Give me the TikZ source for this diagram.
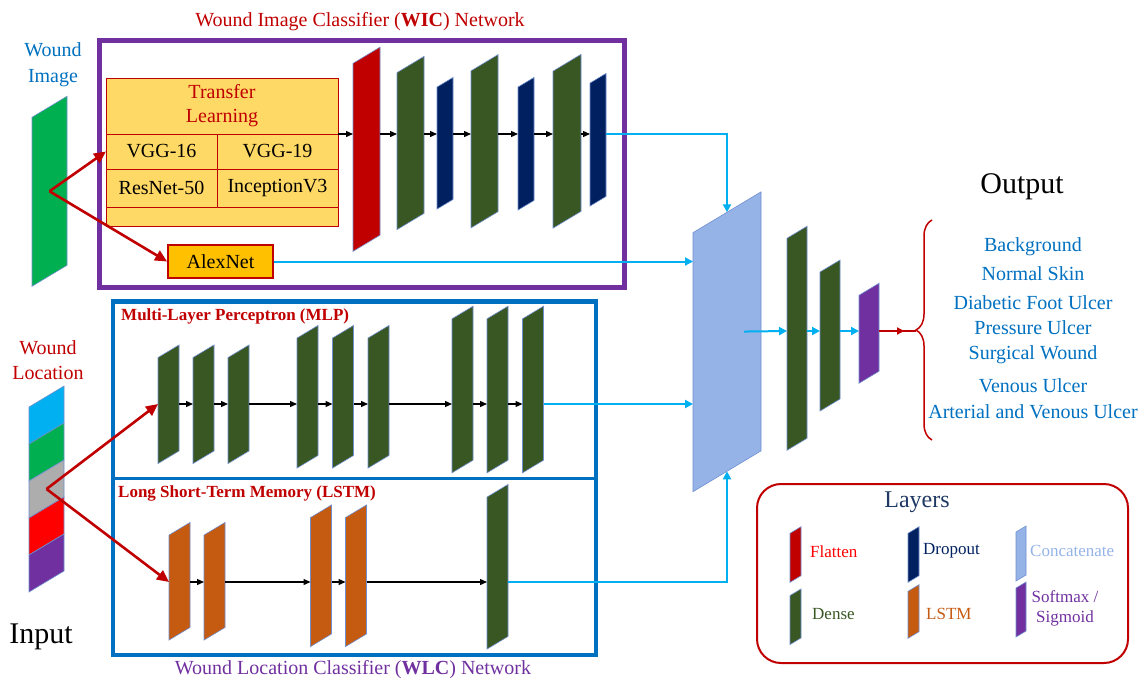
\documentclass[tikz,border=0pt]{standalone}
\usepackage{fontspec}
\setmainfont{Liberation Serif}
\usetikzlibrary{arrows.meta, positioning, calc, decorations.pathreplacing, decorations.markings}
\definecolor{cRed}{HTML}{C00000}
\definecolor{cBrightRed}{HTML}{FF0000}
\definecolor{cPurple}{HTML}{7030A0}
\definecolor{cBlue}{HTML}{0070C0}
\definecolor{cCyan}{HTML}{00B0F0}
\definecolor{cDense}{HTML}{385723}
\definecolor{cDrop}{HTML}{002060}
\definecolor{cLSTM}{HTML}{C55A11}
\definecolor{cConcat}{HTML}{95B3E7}
\definecolor{cImg}{HTML}{00B050}
\definecolor{cGray}{HTML}{ADADAD}
\definecolor{cTL}{HTML}{FFD966}
\definecolor{cAlex}{HTML}{FFC000}
\definecolor{cEdge}{HTML}{6F8FCF}
\definecolor{cNavy}{HTML}{1F3864}
\newcommand{\fsz}[2]{\fontsize{#1}{#2}\selectfont}

\begin{document}
\begin{tikzpicture}[x=1pt, y=-1pt,
    lyr/.style n args={3}{draw=cEdge, line width=0.6pt, yslant=0.6, inner sep=0pt, outer sep=0pt,
      fill=#1, minimum width=#2pt, minimum height=#3pt},
    fwd/.style={-{Triangle[length=7pt,width=6pt]}, line width=1.3pt},
    cyarr/.style={draw=cCyan, line width=2pt, -{Triangle[length=8pt,width=8pt]}},
    redarr/.style={draw=cRed, line width=2.6pt, -{Triangle[length=12pt,width=11pt]}},
    tlcell/.style={draw=cRed, line width=0.9pt, fill=cTL, inner sep=0pt, outer sep=0pt, font=\fsz{20}{24}},
    lbl/.style={font=\fsz{20}{25}, align=center, inner sep=0pt},
    lgtxt/.style={font=\fsz{17}{20}, anchor=west, inner sep=0pt}]
  \useasboundingbox (0,0) rectangle (1139,681);
  % arrow rows
  \coordinate (wrow) at (0,134);
  \coordinate (mrow) at (0,404);
  \coordinate (lrow) at (0,582);
  \coordinate (orow) at (0,331);

  % inputs
  \node[lyr={cImg}{35}{169}] (img) at (49.5,191.25) {};
  \node[lbl, text=cBlue, font=\fsz{20}{26}] (imgtxt) at (53,65) {Wound\\Image};
  \node[lyr={cCyan}{35}{37}] (loc1) at (46.5,415) {};
  \node[lyr={cImg}{35}{37}] (loc2) at (46.5,452) {};
  \node[lyr={cGray}{35}{37}] (loc3) at (46.5,489) {};
  \node[lyr={cBrightRed}{35}{37}] (loc4) at (46.5,526) {};
  \node[lyr={cPurple}{35}{37}] (loc5) at (46.5,563) {};
  \node[lbl, text=cRed] (loctxt) at (48,360.5) {Wound\\Location};
  \node[font=\fsz{30}{36}] (inptxt) at (41,637) {Input};

  % WIC network
  \node[draw=cPurple, line width=4.5pt, minimum width=525pt, minimum height=247pt, inner sep=0pt] (wic) at (362,164) {};
  \node[lbl, text=cRed] (wictxt) at (360,22) {Wound Image Classifier (\textbf{WIC}) Network};
  \node[tlcell, minimum width=232pt, minimum height=56pt, text=cRed, align=center] (tl) at (222,106) {Transfer\\Learning};
  \node[tlcell, minimum width=111pt, minimum height=35pt] (vgg16) at (161.5,151.5) {VGG-16};
  \node[tlcell, minimum width=121pt, minimum height=35pt] (vgg19) at (277.5,151.5) {VGG-19};
  \node[tlcell, minimum width=111pt, minimum height=38pt] (res50) at (161.5,188) {ResNet-50};
  \node[tlcell, minimum width=121pt, minimum height=38pt] (incv3) at (277.5,188) {InceptionV3};
  \node[tlcell, minimum width=232pt, minimum height=19pt] (tlfoot) at (222,216.5) {};
  \node[draw=cRed, line width=1.8pt, fill=cAlex, minimum width=105pt, minimum height=33pt, inner sep=0pt,
    font=\fsz{20}{24}] (alex) at (220.5,261.5) {AlexNet};
  \node[lyr={cRed}{27}{188}] (fl) at (366.5,149.25) {};
  \node[lyr={cDense}{27}{157}] (wd1) at (410.5,143) {};
  \node[lyr={cDrop}{16}{122}] (wp1) at (445,143.25) {};
  \node[lyr={cDense}{27}{157}] (wd2) at (484.5,141.25) {};
  \node[lyr={cDrop}{16}{123}] (wp2) at (526,143.75) {};
  \node[lyr={cDense}{28}{157}] (wd3) at (567,141.25) {};
  \node[lyr={cDrop}{16}{123}] (wp3) at (598,139.75) {};
  \draw[fwd] (tl.south east) -- (fl.west |- wrow);
  \draw[fwd] (fl.east |- wrow) -- (wd1.west |- wrow); \draw[fwd] (wd1.east |- wrow) -- (wp1.west |- wrow);
  \draw[fwd] (wp1.east |- wrow) -- (wd2.west |- wrow); \draw[fwd] (wd2.east |- wrow) -- (wp2.west |- wrow);
  \draw[fwd] (wp2.east |- wrow) -- (wd3.west |- wrow); \draw[fwd] (wd3.east |- wrow) -- (wp3.west |- wrow);
  \draw[redarr] (img.center) -- (vgg16.west);
  \draw[redarr] (img.center) -- (alex.west);

  % WLC network
  \node[draw=cBlue, line width=4.5pt, minimum width=483pt, minimum height=353.5pt, inner sep=0pt] (wlc) at (354.5,478.25) {};
  \draw[cBlue, line width=2.5pt] (wlc.west) -- (wlc.east);
  \node[lbl, text=cPurple] (wlctxt) at (353,670) {Wound Location Classifier (\textbf{WLC}) Network};
  \node[font=\bfseries\fsz{17}{20}, text=cRed, anchor=west, inner sep=0pt] (mlptxt) at (121,316) {Multi-Layer Perceptron (MLP)};
  \node[font=\bfseries\fsz{17}{20}, text=cRed, anchor=west, inner sep=0pt] (lstmtxt) at (118,493) {Long Short-Term Memory (LSTM)};
  \node[lyr={cDense}{21}{106}] (m1) at (168.5,404.25) {};
  \node[lyr={cDense}{21}{106}] (m2) at (203.5,404.25) {};
  \node[lyr={cDense}{21}{106}] (m3) at (238.5,404.25) {};
  \node[lyr={cDense}{21}{130}] (m4) at (307.5,396.75) {};
  \node[lyr={cDense}{21}{130}] (m5) at (343,396.75) {};
  \node[lyr={cDense}{21}{130}] (m6) at (378.5,396.75) {};
  \node[lyr={cDense}{21}{154}] (m7) at (462.5,389.5) {};
  \node[lyr={cDense}{21}{154}] (m8) at (497.5,389.5) {};
  \node[lyr={cDense}{21}{154}] (m9) at (533,389.5) {};
  \draw[fwd] (m1.east |- mrow) -- (m2.west |- mrow); \draw[fwd] (m2.east |- mrow) -- (m3.west |- mrow);
  \draw[fwd] (m3.east |- mrow) -- (m4.west |- mrow); \draw[fwd] (m4.east |- mrow) -- (m5.west |- mrow);
  \draw[fwd] (m5.east |- mrow) -- (m6.west |- mrow); \draw[fwd] (m6.east |- mrow) -- (m7.west |- mrow);
  \draw[fwd] (m7.east |- mrow) -- (m8.west |- mrow); \draw[fwd] (m8.east |- mrow) -- (m9.west |- mrow);
  \node[lyr={cLSTM}{21}{105}] (l1) at (179.5,581.25) {};
  \node[lyr={cLSTM}{21}{105}] (l2) at (214.5,581.25) {};
  \node[lyr={cLSTM}{21}{129}] (l3) at (321,575.75) {};
  \node[lyr={cLSTM}{21}{129}] (l4) at (356,575.75) {};
  \node[lyr={cDense}{21}{152}] (ld) at (497.5,566.75) {};
  \draw[fwd] (l1.east |- lrow) -- (l2.west |- lrow); \draw[fwd] (l2.east |- lrow) -- (l3.west |- lrow);
  \draw[fwd] (l3.east |- lrow) -- (l4.west |- lrow); \draw[fwd] (l4.east |- lrow) -- (ld.west |- lrow);
  \draw[redarr] (loc3.center) -- (m1.west |- mrow);
  \draw[redarr] (loc3.center) -- (l1.west |- lrow);

  % concatenate and output
  \node[lyr={cConcat}{68}{259}] (cc) at (727,341.75) {};
  \node[lyr={cDense}{20}{212}] (o1) at (797,338.25) {};
  \node[lyr={cDense}{20}{139}] (o2) at (830,335.5) {};
  \node[lyr={cPurple}{20}{88}] (o3) at (869,333.25) {};
  \draw[cyarr] (wp3.east |- wrow) -| (cc.north);
  \draw[cyarr] (alex.east) -- (cc.west |- alex.east);
  \draw[cyarr] (m9.east |- mrow) -- (cc.west |- mrow);
  \draw[cyarr] (ld.east |- lrow) -| (cc.south);
  \draw[cyarr] ($(cc.center)!0.5!(cc.east)$ |- orow) -- (o1.west |- orow);
  \draw[cyarr] (o1.east |- orow) -- (o2.west |- orow); \draw[cyarr] (o2.east |- orow) -- (o3.west |- orow);
  \coordinate (btop) at (932,220);
  \coordinate (bbot) at (932,440);
  \coordinate (btip) at (916,331);
  \draw[cRed, line width=1.5pt, decorate, decoration={brace, amplitude=16pt}] (bbot) -- (btop);
  \draw[cRed, line width=1.5pt, postaction={decorate},
    decoration={markings, mark=at position 0.68 with {\arrow{Triangle[length=7pt,width=7pt]}}}] (o3.east |- orow) -- (btip);
  \node[font=\fsz{30}{36}] (outtxt) at (1022,187) {Output};
  \node[lbl, text=cBlue] (c1) at (1033,247) {Background};
  \node[lbl, text=cBlue] (c2) at (1033,274) {Normal Skin};
  \node[lbl, text=cBlue] (c3) at (1033,303) {Diabetic Foot Ulcer};
  \node[lbl, text=cBlue] (c4) at (1033,328) {Pressure Ulcer};
  \node[lbl, text=cBlue] (c5) at (1033,355) {Surgical Wound};
  \node[lbl, text=cBlue] (c6) at (1033,386) {Venous Ulcer};
  \node[lbl, text=cBlue] (c7) at (1033,412) {Arterial and Venous Ulcer};

  % legend
  \node[draw=cRed, line width=2pt, rounded corners=24pt, minimum width=371pt, minimum height=179pt] (lgd) at (942.5,573.5) {};
  \node[font=\fsz{24}{28}, text=cNavy] (lgdtxt) at (917,502) {Layers};
  \node[lyr={cRed}{11}{49}] (kfl) at (795.5,554.5) {};
  \node[lyr={cDense}{11}{49}] (kde) at (795.5,616.75) {};
  \node[lyr={cDrop}{11}{49}] (kdr) at (913.5,554.5) {};
  \node[lyr={cLSTM}{11}{47}] (kls) at (913.5,611.5) {};
  \node[lyr={cConcat}{10}{49}] (kcc) at (1021,553.5) {};
  \node[lyr={cPurple}{10}{49}] (ksm) at (1021,609.5) {};
  \node[lgtxt, text=cBrightRed] (tfl) at (810,552) {Flatten};
  \node[lgtxt, text=cDense] (tde) at (812,614) {Dense};
  \node[lgtxt, text=cDrop] (tdr) at (923,551) {Dropout};
  \node[lgtxt, text=cLSTM] (tls) at (926,614) {LSTM};
  \node[lgtxt, text=cConcat] (tcc) at (1030,551) {Concatenate};
  \node[font=\fsz{17}{20}, text=cPurple, align=center, inner sep=0pt] (tsm) at (1065,608) {Softmax /\\Sigmoid};
\end{tikzpicture}
\end{document}
